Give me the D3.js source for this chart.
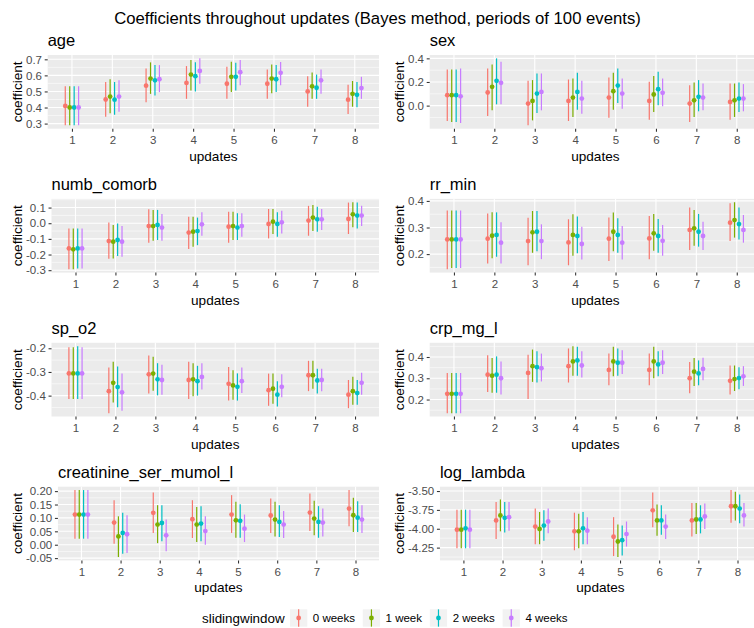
<!DOCTYPE html>
<html>
<head>
<meta charset="utf-8">
<script src="https://cdn.jsdelivr.net/npm/d3@7"></script>
<style>
  body { margin: 0; background: #ffffff; }
  svg { display: block; font-family: "Liberation Sans", Arial, Helvetica, sans-serif; }
</style>
</head>
<body>
<svg id="chart" width="754" height="628"></svg>
<script>
// ---------- data ----------
const updates = [1, 2, 3, 4, 5, 6, 7, 8];
const windows = ["0 weeks", "1 week", "2 weeks", "4 weeks"];
const variables = ["age", "sex", "numb_comorb", "rr_min", "sp_o2", "crp_mg_l", "creatinine_ser_mumol_l", "log_lambda"];

// each array: one row per sliding window, one column per update
const age_est = [
  [0.410, 0.450, 0.536, 0.553, 0.548, 0.548, 0.500, 0.449],
  [0.400, 0.468, 0.580, 0.605, 0.591, 0.580, 0.532, 0.485],
  [0.400, 0.449, 0.569, 0.595, 0.591, 0.576, 0.523, 0.479],
  [0.400, 0.468, 0.576, 0.628, 0.620, 0.616, 0.569, 0.521]];
const age_lo = [
  [0.289, 0.342, 0.433, 0.454, 0.454, 0.454, 0.405, 0.359],
  [0.289, 0.365, 0.485, 0.506, 0.496, 0.489, 0.454, 0.405],
  [0.289, 0.355, 0.475, 0.500, 0.506, 0.496, 0.454, 0.401],
  [0.289, 0.374, 0.496, 0.548, 0.538, 0.538, 0.485, 0.454]];
const age_hi = [
  [0.532, 0.559, 0.643, 0.658, 0.654, 0.637, 0.595, 0.542],
  [0.532, 0.576, 0.681, 0.696, 0.685, 0.668, 0.618, 0.565],
  [0.532, 0.559, 0.664, 0.681, 0.679, 0.664, 0.605, 0.559],
  [0.532, 0.569, 0.664, 0.706, 0.696, 0.683, 0.637, 0.591]];

const sex_est = [
  [0.088, 0.111, 0.017, 0.040, 0.068, 0.040, 0.017, 0.031],
  [0.088, 0.159, 0.040, 0.068, 0.122, 0.094, 0.045, 0.045],
  [0.088, 0.210, 0.102, 0.116, 0.170, 0.139, 0.074, 0.060],
  [0.079, 0.193, 0.116, 0.060, 0.102, 0.108, 0.068, 0.060]];
const sex_lo = [
  [-0.130, -0.088, -0.167, -0.130, -0.102, -0.119, -0.139, -0.119],
  [-0.139, -0.040, -0.125, -0.096, -0.034, -0.054, -0.096, -0.096],
  [-0.139, 0.011, -0.062, -0.034, 0.023, 0.003, -0.048, -0.054],
  [-0.148, 0.011, -0.040, -0.068, -0.026, -0.006, -0.040, -0.048]];
const sex_hi = [
  [0.306, 0.315, 0.210, 0.221, 0.238, 0.201, 0.173, 0.187],
  [0.306, 0.349, 0.216, 0.230, 0.278, 0.250, 0.196, 0.187],
  [0.306, 0.400, 0.272, 0.278, 0.315, 0.286, 0.216, 0.196],
  [0.315, 0.372, 0.272, 0.210, 0.230, 0.230, 0.187, 0.182]];

const comorb_est = [
  [-0.161, -0.114, -0.018, -0.060, -0.022, -0.005, 0.017, 0.027],
  [-0.167, -0.118, -0.018, -0.054, -0.018, 0.010, 0.036, 0.057],
  [-0.161, -0.107, -0.011, -0.050, -0.028, -0.005, 0.025, 0.049],
  [-0.161, -0.118, -0.028, -0.007, -0.018, 0.006, 0.025, 0.049]];
const comorb_lo = [
  [-0.294, -0.227, -0.125, -0.165, -0.125, -0.097, -0.080, -0.069],
  [-0.294, -0.225, -0.112, -0.150, -0.107, -0.069, -0.050, -0.026],
  [-0.289, -0.210, -0.107, -0.140, -0.107, -0.086, -0.054, -0.033],
  [-0.289, -0.214, -0.112, -0.080, -0.086, -0.065, -0.043, -0.018]];
const comorb_hi = [
  [-0.033, 0.004, 0.089, 0.042, 0.074, 0.091, 0.111, 0.132],
  [-0.033, -0.011, 0.085, 0.042, 0.074, 0.091, 0.117, 0.134],
  [-0.033, -0.001, 0.085, 0.036, 0.064, 0.070, 0.106, 0.132],
  [-0.033, -0.018, 0.059, 0.070, 0.064, 0.079, 0.091, 0.111]];

const rr_est = [
  [0.255, 0.258, 0.249, 0.244, 0.258, 0.259, 0.291, 0.318],
  [0.255, 0.269, 0.282, 0.272, 0.284, 0.278, 0.297, 0.328],
  [0.255, 0.272, 0.284, 0.268, 0.272, 0.268, 0.284, 0.313],
  [0.255, 0.243, 0.249, 0.238, 0.243, 0.250, 0.268, 0.291]];
const rr_lo = [
  [0.143, 0.165, 0.158, 0.158, 0.174, 0.181, 0.215, 0.249],
  [0.148, 0.184, 0.205, 0.194, 0.211, 0.213, 0.231, 0.262],
  [0.148, 0.190, 0.211, 0.203, 0.205, 0.205, 0.228, 0.255],
  [0.148, 0.165, 0.181, 0.180, 0.180, 0.194, 0.215, 0.243]];
const rr_hi = [
  [0.364, 0.353, 0.337, 0.331, 0.338, 0.343, 0.375, 0.391],
  [0.364, 0.357, 0.362, 0.350, 0.356, 0.351, 0.366, 0.395],
  [0.364, 0.357, 0.362, 0.341, 0.335, 0.332, 0.351, 0.375],
  [0.364, 0.320, 0.312, 0.303, 0.306, 0.309, 0.322, 0.347]];

const spo2_est = [
  [-0.306, -0.381, -0.310, -0.334, -0.350, -0.377, -0.314, -0.396],
  [-0.306, -0.346, -0.307, -0.331, -0.357, -0.371, -0.314, -0.381],
  [-0.306, -0.364, -0.331, -0.339, -0.363, -0.396, -0.336, -0.389],
  [-0.306, -0.386, -0.334, -0.321, -0.339, -0.363, -0.334, -0.346]];
const spo2_lo = [
  [-0.414, -0.474, -0.391, -0.414, -0.421, -0.443, -0.381, -0.453],
  [-0.414, -0.429, -0.379, -0.403, -0.417, -0.434, -0.371, -0.439],
  [-0.414, -0.449, -0.399, -0.400, -0.421, -0.446, -0.391, -0.439],
  [-0.414, -0.464, -0.396, -0.374, -0.389, -0.407, -0.381, -0.396]];
const spo2_hi = [
  [-0.196, -0.281, -0.231, -0.257, -0.279, -0.307, -0.253, -0.334],
  [-0.196, -0.257, -0.236, -0.263, -0.293, -0.307, -0.253, -0.320],
  [-0.191, -0.277, -0.263, -0.274, -0.306, -0.339, -0.286, -0.334],
  [-0.196, -0.306, -0.270, -0.263, -0.281, -0.310, -0.286, -0.303]];

const crp_est = [
  [0.227, 0.317, 0.325, 0.357, 0.339, 0.339, 0.300, 0.288],
  [0.227, 0.312, 0.357, 0.379, 0.379, 0.379, 0.331, 0.296],
  [0.227, 0.317, 0.352, 0.384, 0.373, 0.365, 0.323, 0.301],
  [0.227, 0.300, 0.347, 0.360, 0.373, 0.373, 0.344, 0.309]];
const crp_lo = [
  [0.136, 0.235, 0.203, 0.280, 0.267, 0.267, 0.229, 0.224],
  [0.136, 0.232, 0.283, 0.312, 0.309, 0.300, 0.264, 0.240],
  [0.136, 0.232, 0.280, 0.312, 0.312, 0.309, 0.267, 0.248],
  [0.136, 0.224, 0.285, 0.304, 0.320, 0.320, 0.291, 0.264]];
const crp_hi = [
  [0.325, 0.408, 0.411, 0.440, 0.416, 0.416, 0.376, 0.360],
  [0.325, 0.395, 0.435, 0.451, 0.448, 0.448, 0.395, 0.360],
  [0.325, 0.403, 0.427, 0.448, 0.440, 0.427, 0.384, 0.352],
  [0.325, 0.379, 0.416, 0.427, 0.432, 0.432, 0.397, 0.357]];

const creat_est = [
  [0.1125, 0.0825, 0.119, 0.095, 0.1125, 0.109, 0.120, 0.135],
  [0.1125, 0.031, 0.075, 0.075, 0.091, 0.094, 0.0975, 0.110],
  [0.1125, 0.044, 0.081, 0.079, 0.089, 0.085, 0.085, 0.101],
  [0.1125, 0.039, 0.035, 0.051, 0.060, 0.075, 0.0825, 0.094]];
const creat_lo = [
  [0.0225, 0.004, 0.044, 0.025, 0.044, 0.044, 0.051, 0.069],
  [0.0225, -0.046, 0.006, 0.010, 0.026, 0.031, 0.035, 0.0475],
  [0.0225, -0.034, 0.0125, 0.0125, 0.026, 0.029, 0.026, 0.0475],
  [0.0225, -0.031, -0.024, 0.000, 0.010, 0.025, 0.031, 0.044]];
const creat_hi = [
  [0.204, 0.166, 0.195, 0.166, 0.185, 0.1725, 0.191, 0.204],
  [0.204, 0.106, 0.1475, 0.141, 0.160, 0.160, 0.164, 0.175],
  [0.204, 0.119, 0.1475, 0.144, 0.151, 0.1475, 0.144, 0.1625],
  [0.204, 0.110, 0.094, 0.106, 0.1125, 0.126, 0.135, 0.1475]];

const lambda_est = [
  [-4.012, -3.890, -3.971, -4.034, -4.106, -3.756, -3.890, -3.702],
  [-4.012, -3.823, -4.003, -4.034, -4.169, -3.890, -3.877, -3.702],
  [-3.994, -3.855, -3.958, -3.994, -4.151, -3.890, -3.877, -3.733],
  [-4.012, -3.846, -3.904, -4.025, -4.070, -3.971, -3.837, -3.823]];
const lambda_lo = [
  [-4.259, -4.137, -4.205, -4.285, -4.362, -3.980, -4.101, -3.922],
  [-4.259, -4.034, -4.205, -4.259, -4.375, -4.092, -4.070, -3.890],
  [-4.259, -4.048, -4.160, -4.205, -4.353, -4.079, -4.061, -3.926],
  [-4.259, -4.025, -4.061, -4.205, -4.236, -4.137, -4.003, -3.971]];
const lambda_hi = [
  [-3.747, -3.644, -3.733, -3.787, -3.846, -3.518, -3.657, -3.487],
  [-3.747, -3.612, -3.778, -3.801, -3.944, -3.680, -3.657, -3.509],
  [-3.747, -3.644, -3.756, -3.778, -3.958, -3.689, -3.689, -3.545],
  [-3.747, -3.644, -3.733, -3.846, -3.904, -3.810, -3.666, -3.657]];

// y-axis tick labels per variable
const age_ticks = ["0.3", "0.4", "0.5", "0.6", "0.7"];
const sex_ticks = ["0.0", "0.2", "0.4"];
const comorb_ticks = ["-0.3", "-0.2", "-0.1", "0.0", "0.1"];
const rr_ticks = ["0.2", "0.3", "0.4"];
const spo2_ticks = ["-0.4", "-0.3", "-0.2"];
const crp_ticks = ["0.2", "0.3", "0.4"];
const creat_ticks = ["-0.05", "0.00", "0.05", "0.10", "0.15", "0.20"];
const lambda_ticks = ["-4.25", "-4.00", "-3.75", "-3.50"];

const seriesColors = ["#F8766D", "#7CAE00", "#00BFC4", "#C77CFF"];

const panels = [
  { name: variables[0], est: age_est, lo: age_lo, hi: age_hi, ticks: age_ticks },
  { name: variables[1], est: sex_est, lo: sex_lo, hi: sex_hi, ticks: sex_ticks },
  { name: variables[2], est: comorb_est, lo: comorb_lo, hi: comorb_hi, ticks: comorb_ticks },
  { name: variables[3], est: rr_est, lo: rr_lo, hi: rr_hi, ticks: rr_ticks },
  { name: variables[4], est: spo2_est, lo: spo2_lo, hi: spo2_hi, ticks: spo2_ticks },
  { name: variables[5], est: crp_est, lo: crp_lo, hi: crp_hi, ticks: crp_ticks },
  { name: variables[6], est: creat_est, lo: creat_lo, hi: creat_hi, ticks: creat_ticks },
  { name: variables[7], est: lambda_est, lo: lambda_lo, hi: lambda_hi, ticks: lambda_ticks }
];

// ---------- layout ----------
const svg = d3.select("#chart");
const colX = [0, 382];
const panelRightOffset = 379;
const rowTop = [55, 198.9, 342.8, 486.7];
const panelH = 73.7;
const tickFont = 11.5;
const textGray = "#4D4D4D";

svg.append("text")
  .attr("x", 377.5).attr("y", 23.5)
  .attr("text-anchor", "middle")
  .attr("font-size", 16.7)
  .attr("fill", "#000")
  .text("Coefficients throughout updates (Bayes method, periods of 100 events)");

// width of a tick label string in the tick font
function textWidth(str, size) {
  const t = svg.append("text").attr("font-size", size).text(str);
  const w = t.node().getComputedTextLength();
  t.remove();
  return w;
}

panels.forEach((p, k) => {
  const col = k % 2, row = Math.floor(k / 2);
  const cx = colX[col];
  const maxW = d3.max(p.ticks, s => textWidth(s, tickFont));
  const left = cx + 31.7 + maxW;
  const right = cx + panelRightOffset;
  const top = rowTop[row];
  const bottom = top + panelH;

  const x = d3.scalePoint().domain(updates).range([left, right]).padding(0.6);
  const step = x.step();

  const lows = p.lo.flat(), highs = p.hi.flat();
  const mn = d3.min(lows), mx = d3.max(highs);
  const pad = (mx - mn) * 0.05;
  const y = d3.scaleLinear().domain([mn - pad, mx + pad]).range([bottom, top]);

  const g = svg.append("g");

  // panel background
  g.append("rect")
    .attr("x", left).attr("y", top)
    .attr("width", right - left).attr("height", panelH)
    .attr("fill", "#EBEBEB");

  // minor y grid
  const tv = p.ticks.map(Number);
  const stepT = tv[1] - tv[0];
  const minor = [];
  for (let i = 0; i < tv.length - 1; i++) minor.push((tv[i] + tv[i + 1]) / 2);
  minor.push(tv[0] - stepT / 2, tv[tv.length - 1] + stepT / 2);
  const [d0, d1] = y.domain();
  g.selectAll(".minor").data(minor.filter(v => v >= d0 && v <= d1)).join("line")
    .attr("x1", left).attr("x2", right)
    .attr("y1", d => y(d)).attr("y2", d => y(d))
    .attr("stroke", "#fff").attr("stroke-width", 0.55);

  // major grid
  g.selectAll(".majorY").data(tv).join("line")
    .attr("x1", left).attr("x2", right)
    .attr("y1", d => y(d)).attr("y2", d => y(d))
    .attr("stroke", "#fff").attr("stroke-width", 1.1);
  g.selectAll(".majorX").data(updates).join("line")
    .attr("x1", d => x(d)).attr("x2", d => x(d))
    .attr("y1", top).attr("y2", bottom)
    .attr("stroke", "#fff").attr("stroke-width", 1.1);

  // axes
  const yAxis = d3.axisLeft(y).tickValues(tv).tickFormat((d, i) => p.ticks[i])
    .tickSize(3).tickPadding(2.7);
  const ya = g.append("g").attr("transform", `translate(${left},0)`).call(yAxis);
  const xAxis = d3.axisBottom(x).tickSize(3).tickPadding(4.6);
  const xa = g.append("g").attr("transform", `translate(0,${bottom})`).call(xAxis);
  [ya, xa].forEach(a => {
    a.select(".domain").remove();
    a.selectAll(".tick line").attr("stroke", "#333333").attr("stroke-width", 1.07);
    a.selectAll(".tick text").attr("fill", textGray).attr("font-size", tickFont)
      .attr("font-family", "Liberation Sans, Arial, sans-serif");
  });

  // point ranges, one series per sliding window
  windows.forEach((w, s) => {
    const off = (s - 1.5) * 0.11 * step;
    const color = seriesColors[s];
    const sg = g.append("g");
    sg.selectAll("line").data(updates).join("line")
      .attr("x1", (u) => x(u) + off).attr("x2", (u) => x(u) + off)
      .attr("y1", (u, i) => y(p.lo[s][i])).attr("y2", (u, i) => y(p.hi[s][i]))
      .attr("stroke", color).attr("stroke-width", 1.2);
    sg.selectAll("circle").data(updates).join("circle")
      .attr("cx", (u) => x(u) + off)
      .attr("cy", (u, i) => y(p.est[s][i]))
      .attr("r", 2.4)
      .attr("fill", color);
  });

  // titles
  g.append("text")
    .attr("x", left).attr("y", top - 9)
    .attr("font-size", 16.5).attr("fill", "#000")
    .text(p.name);
  g.append("text")
    .attr("x", (left + right) / 2).attr("y", bottom + 32)
    .attr("text-anchor", "middle")
    .attr("font-size", 13.6).attr("fill", "#000")
    .text("updates");
  g.append("text")
    .attr("transform", `translate(${cx + 21.7},${(top + bottom) / 2}) rotate(-90)`)
    .attr("text-anchor", "middle")
    .attr("font-size", 13.6).attr("fill", "#000")
    .text("coefficient");
});

// ---------- legend ----------
const legY = 618;
const leg = svg.append("g");
leg.append("text")
  .attr("x", 202).attr("y", legY + 4.6)
  .attr("font-size", 13.4).attr("fill", "#000")
  .text("slidingwindow");
let lx = 290;
const keySize = 17.3;
windows.forEach((w, s) => {
  leg.append("rect")
    .attr("x", lx).attr("y", legY - keySize / 2)
    .attr("width", keySize).attr("height", keySize)
    .attr("fill", "#F2F2F2");
  leg.append("line")
    .attr("x1", lx + keySize / 2).attr("x2", lx + keySize / 2)
    .attr("y1", legY - keySize / 2).attr("y2", legY + keySize / 2)
    .attr("stroke", seriesColors[s]).attr("stroke-width", 1.2);
  leg.append("circle")
    .attr("cx", lx + keySize / 2).attr("cy", legY)
    .attr("r", 2.4).attr("fill", seriesColors[s]);
  const tx = lx + keySize + 5.5;
  leg.append("text")
    .attr("x", tx).attr("y", legY + 4)
    .attr("font-size", tickFont).attr("fill", "#000")
    .text(w);
  lx = tx + textWidth(w, tickFont) + 7.8;
});
</script>
</body>
</html>
